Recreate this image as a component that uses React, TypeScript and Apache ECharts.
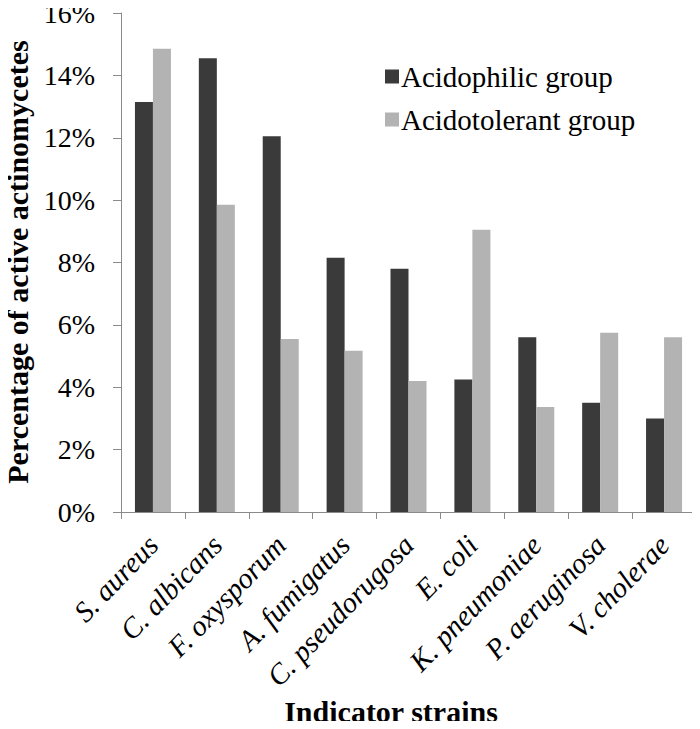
import React, { useEffect, useRef } from "react";
import * as echarts from "echarts";

const categories = [
  "S. aureus",
  "C. albicans",
  "F. oxysporum",
  "A. fumigatus",
  "C. pseudorugosa",
  "E. coli",
  "K. pneumoniae",
  "P. aeruginosa",
  "V. cholerae",
];
const acidophilic = [13.15, 14.55, 12.05, 8.15, 7.8, 4.25, 5.6, 3.5, 3.0];
const acidotolerant = [14.85, 9.85, 5.55, 5.17, 4.2, 9.05, 3.37, 5.75, 5.6];
const seriesNames = ["Acidophilic group", "Acidotolerant group"];
const xAxisName = "Indicator strains";
const yAxisName = "Percentage of active actinomycetes";
const yTicks = { min: 0, max: 16, interval: 2 };

const SERIF = "Times New Roman, Liberation Serif, DejaVu Serif, serif";

export default function App() {
  const ref = useRef<HTMLDivElement>(null);
  useEffect(() => {
    if (!ref.current) return;
    const chart = echarts.init(ref.current, undefined, { renderer: "svg" });
    chart.setOption({
      animation: false,
      backgroundColor: "#ffffff",
      textStyle: { fontFamily: SERIF, color: "#000" },
      grid: {
        left: 121,
        right: 4,
        top: 13,
        bottom: 217,
        containLabel: false,
        outerBoundsMode: "none",
      },
      legend: {
        orient: "vertical",
        left: 380,
        top: 57,
        itemWidth: 14,
        itemHeight: 14,
        itemGap: 14,
        icon: "rect",
        textStyle: { fontFamily: SERIF, fontSize: 29, color: "#000", padding: [0, 0, 0, -3] },
        data: seriesNames,
      },
      graphic: [
        {
          type: "text",
          x: 17,
          y: 262,
          rotation: Math.PI / 2,
          style: {
            text: yAxisName,
            fontFamily: SERIF,
            fontWeight: "bold",
            fontSize: 30,
            fill: "#000",
            align: "center",
            verticalAlign: "middle",
          },
        },
        {
          type: "text",
          x: 391,
          y: 711,
          style: {
            text: xAxisName,
            fontFamily: SERIF,
            fontWeight: "bold",
            fontSize: 30,
            fill: "#000",
            align: "center",
            verticalAlign: "middle",
          },
        },
      ],
      xAxis: {
        type: "category",
        data: categories,
        axisLine: { lineStyle: { color: "#8a8a8a", width: 1 } },
        axisTick: { show: true, length: 7, lineStyle: { color: "#8a8a8a" } },
        axisLabel: {
          rotate: 46,
          margin: 28,
          interval: 0,
          fontFamily: SERIF,
          fontStyle: "italic",
          fontSize: 29,
          color: "#000",
        },
      },
      yAxis: {
        type: "value",
        min: yTicks.min,
        max: yTicks.max,
        interval: yTicks.interval,
        axisLine: { show: true, lineStyle: { color: "#8a8a8a", width: 1 } },
        axisTick: { show: true, length: 8, lineStyle: { color: "#8a8a8a" } },
        splitLine: { show: false },
        axisLabel: {
          formatter: "{value}%",
          margin: 26,
          lineHeight: 22,
          padding: [6, 0, 0, 0],
          fontFamily: SERIF,
          fontSize: 28,
          color: "#000",
        },
      },
      series: [
        {
          name: seriesNames[0],
          type: "bar",
          data: acidophilic,
          barWidth: 18,
          barGap: "0%",
          itemStyle: { color: "#3a3a3a" },
        },
        {
          name: seriesNames[1],
          type: "bar",
          data: acidotolerant,
          barWidth: 18,
          barGap: "0%",
          itemStyle: { color: "#b3b3b3" },
        },
      ],
    });
    return () => chart.dispose();
  }, []);
  return <div ref={ref} style={{ width: 700, height: 729, margin: -8 }} />;
}
